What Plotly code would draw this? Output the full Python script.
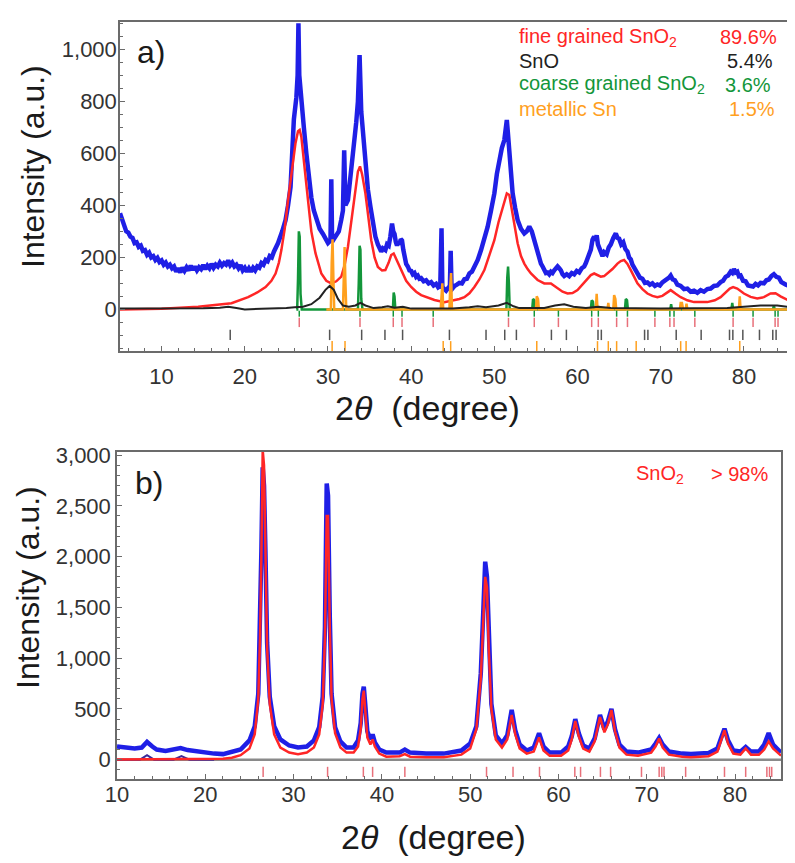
import plotly.graph_objects as go

# ---------------- Panel a data ----------------
a_obs_x = [5.0,5.25,5.5,5.75,6.0,6.25,6.5,6.75,7.0,7.25,7.5,7.75,8.0,8.25,8.5,8.75,9.0,9.25,9.5,9.75,10.0,10.25,10.5,10.75,11.0,11.25,11.5,11.75,12.0,12.25,12.5,12.75,13.0,13.25,13.5,13.75,14.0,14.25,14.5,14.75,15.0,15.25,15.5,15.75,16.0,16.25,16.5,16.75,17.0,17.25,17.5,17.75,18.0,18.25,18.5,18.75,19.0,19.25,19.5,19.75,20.0,20.25,20.5,20.75,21.0,21.25,21.5,21.75,22.0,22.25,22.5,22.75,23.0,23.25,23.5,23.75,24.0,24.5,24.9,25.2,25.5,25.9,26.2,26.35,26.45,26.55,26.8,27.1,27.4,27.7,28.0,28.3,28.6,29.0,29.4,29.7,30.0,30.3,30.4,30.5,30.9,31.3,31.6,31.8,31.95,32.1,32.4,32.8,33.1,33.4,33.6,33.8,34.0,34.3,34.5,34.8,35.1,35.4,35.7,36.0,36.2,36.4,36.6,36.9,37.1,37.3,37.5,37.7,37.85,38.0,38.15,38.3,38.45,38.6,38.75,38.9,39.05,39.2,39.4,39.6,39.8,40.0,40.2,40.4,40.6,40.8,41.0,41.2,41.5,41.8,42.1,42.4,42.7,43.0,43.25,43.5,43.65,43.75,44.0,44.2,44.45,44.65,44.75,44.85,45.0,45.2,45.5,45.8,46.1,46.4,46.7,47.0,47.3,47.6,48.0,48.4,48.8,49.2,49.6,50.0,50.3,50.6,50.9,51.2,51.4,51.5,51.6,51.8,52.0,52.2,52.5,52.8,53.2,53.6,53.9,54.2,54.5,54.8,55.2,55.6,55.8,56.0,56.2,56.4,56.6,56.8,57.0,57.2,57.4,57.6,57.8,58.0,58.2,58.4,58.7,59.0,59.3,59.6,59.9,60.2,60.5,60.8,61.0,61.2,61.4,61.6,61.8,62.0,62.15,62.3,62.45,62.6,62.8,63.0,63.2,63.5,63.75,64.0,64.3,64.6,64.8,65.0,65.25,65.5,65.75,66.0,66.2,66.4,66.6,66.8,67.0,67.2,67.5,67.8,68.1,68.4,68.7,69.0,69.3,69.6,69.9,70.2,70.5,70.7,71.0,71.2,71.45,71.7,72.0,72.4,72.8,73.2,73.6,74.0,74.4,74.8,75.2,75.6,76.0,76.4,76.8,77.2,77.5,77.8,78.1,78.4,78.6,78.8,79.0,79.2,79.4,79.6,79.9,80.2,80.5,80.8,81.1,81.4,81.7,82.0,82.4,82.7,83.0,83.3,83.6,83.9,84.2,84.5,84.8,85.05,85.3]
a_obs_y = [370,345,330,300,295,280,275,255,258,240,245,225,228,210,218,200,205,190,198,182,188,172,180,165,172,158,165,145,158,142,160,148,162,150,168,152,165,150,162,155,170,155,168,158,175,160,172,165,180,168,178,172,188,170,180,165,172,158,170,150,160,145,158,145,160,150,165,160,178,172,190,185,205,200,222,235,255,300,343,400,470,730,815,900,1100,900,790,700,600,510,430,380,345,310,290,270,255,265,500,260,280,300,345,380,612,400,420,535,610,720,800,978,760,640,550,460,395,330,280,250,235,222,235,228,250,245,280,330,300,290,260,245,260,250,270,265,230,200,175,165,150,148,135,140,125,130,118,120,108,112,100,105,92,98,85,90,312,85,80,72,82,78,225,92,82,90,95,102,100,116,118,138,145,165,190,228,270,318,380,446,520,574,620,651,700,728,690,600,520,446,390,343,310,292,300,318,300,266,215,176,165,155,140,142,135,145,140,150,155,165,158,150,135,128,135,128,140,135,148,142,158,165,178,192,210,230,268,280,265,285,250,235,215,205,220,212,238,250,275,292,275,272,250,258,232,222,200,192,172,162,145,140,122,118,102,104,95,100,90,96,92,104,110,118,122,130,115,112,95,90,78,80,68,72,64,74,68,78,80,90,92,105,110,125,130,145,140,155,142,145,128,130,110,108,92,90,88,98,92,102,100,112,115,128,135,125,122,105,102,95,92]

a_fine_x = [5,10,14.4,16,18.4,20.4,21.5,22.5,23.2,23.7,24.1,24.4,24.8,25.2,25.5,25.8,26.1,26.4,26.6,26.8,27.1,27.35,27.6,28.0,28.5,29.2,29.8,30.4,31.0,31.6,32.0,32.4,32.8,33.3,33.6,33.85,34.1,34.5,34.8,35.2,35.6,36.0,36.5,36.9,37.3,37.6,37.9,38.2,38.8,39.4,40,40.6,41.2,42,42.8,44,45.2,45.8,46.4,47.0,47.6,48.2,48.8,49.4,50,50.5,51.0,51.5,51.8,52.2,52.5,52.8,53.2,53.6,54.0,54.4,55.2,56,56.8,57.6,58.2,58.8,59.4,60,60.6,61.2,61.6,62,62.4,62.8,63.2,63.6,64.2,64.8,65.2,65.6,66.0,66.4,66.8,67.2,67.8,68.4,69.0,69.6,70.2,70.7,71.2,71.8,72.4,73.2,74,75.6,76.5,77.2,77.8,78.3,78.7,79.2,80,80.8,81.6,82.4,83.2,83.8,84.4,85.3]
a_fine_y = [0,2,10,15,24,47,65,86,110,138,180,228,310,420,500,574,640,685,690,663,580,500,420,300,216,138,110,100,108,126,170,241,340,470,530,550,520,446,360,266,200,163,150,151,180,209,215,195,151,110,86,68,55,44,36,28,36,40,47,62,86,115,151,205,266,335,394,446,440,369,310,254,205,176,155,138,113,100,100,80,68,61,63,74,95,119,132,138,132,126,128,138,155,176,186,190,175,151,125,100,78,61,52,47,52,64,74,60,47,35,28,28,35,47,65,80,86,80,61,48,42,47,61,62,50,36]

a_sno_x = [5,10,15,17,18,19,20,22,24,25,26,27,28,29,29.7,30.2,30.7,31.2,31.8,32.5,33.3,33.9,34.5,35.5,36.5,37.2,38,39,40,45,47,48,49,50.5,51.5,52.3,53,56,57.3,58.4,59.5,61,62.5,64,70,75,78,80,82,84,85.3]
a_sno_y = [3,3,4,6,10,5,0,2,3,5,8,10,20,45,75,90,75,40,15,10,15,25,15,5,8,12,6,10,3,3,8,12,8,15,25,12,5,5,15,20,10,5,10,5,3,3,5,10,15,15,10]

a_coarse_x = [26.2,26.3,26.4,26.5,26.6,26.7,26.85,29.9,33.6,33.7,33.8,33.9,34.0,34.15,37.8,37.9,38.0,38.1,51.45,51.55,51.65,51.75,51.85,54.55,54.65,54.8,54.9,61.6,61.7,61.85,61.95,65.7,65.8,65.95,66.05,71.15,71.25,71.35,78.5,78.6,78.7,83.5,83.6,83.7,85.3]
a_coarse_y = [0,0,120,300,280,60,0,0,0,100,245,230,40,0,0,65,50,0,0,120,165,100,0,0,40,35,0,0,35,30,0,0,40,35,0,0,20,0,0,25,0,0,15,0,0]

a_sn_x = [29.8,30.35,30.45,30.55,30.65,30.75,31.8,31.9,32.0,32.1,32.2,43.55,43.65,43.75,43.85,44.6,44.7,44.8,44.9,55.0,55.1,55.25,55.35,62.2,62.3,62.4,63.6,63.7,63.8,64.3,64.4,64.55,64.65,72.3,72.4,72.55,72.7,73.0,73.1,73.2,79.4,79.5,79.6,85.3]
a_sn_y = [0,0,180,270,120,0,0,150,240,100,0,0,60,100,0,0,90,140,0,0,50,40,0,0,60,0,0,25,0,0,55,40,0,0,25,25,0,0,22,0,0,50,0,0]

# reflection positions
a_refl_coarse = [26.55,33.85,37.85,38.9,42.65,51.7,54.8,57.7,61.7,62.5,64.7,66.0,69.3,71.1,71.6,74.1,78.7,81.1,83.75,84.1]
a_refl_fine = a_refl_coarse
a_refl_sno = [18.25,30.2,34.05,36.85,38.97,44.6,49.0,51.25,52.65,56.86,58.66,62.46,62.86,68.06,68.46,71.86,74.86,78.27,78.67,79.87,81.87,83.47,83.87]
a_refl_sn = [30.5,32.05,43.85,44.75,55.1,62.4,63.7,64.7,67.05,72.4,73.05,79.5]

a_legend_names = ["fine grained SnO<sub>2</sub>", "SnO", "coarse grained SnO<sub>2</sub>", "metallic Sn"]
a_legend_pct = ["89.6%", "5.4%", "3.6%", "1.5%"]

# ---------------- Panel b data ----------------
b_obs_x = [10,11,12,12.8,13.4,14,14.5,15.5,16.3,17.2,18,19,20,21,22,23,24,25,25.6,26.0,26.2,26.35,26.5,26.65,26.8,27.0,27.3,27.8,28.5,29.5,30.5,31.5,32.3,32.9,33.3,33.55,33.75,33.9,34.1,34.3,34.7,35.3,36,36.8,37.3,37.6,37.8,37.95,38.1,38.35,38.7,38.95,39.2,39.7,40.5,42,42.6,43.2,45,47,49,50,50.7,51.2,51.5,51.7,51.9,52.1,52.4,52.9,53.6,54.2,54.7,55.1,55.6,56.4,57.2,57.8,58.3,59,60.3,61.1,61.5,61.9,62.3,62.8,63.5,64.1,64.7,65.2,65.6,66.0,66.4,66.9,67.7,69,70.5,71.0,71.4,71.8,72.5,74,75,77,78,78.4,78.8,79.2,79.8,80.6,81.2,81.8,82.7,83.3,83.8,84.3,85.2]
b_obs_y = [130,120,110,120,175,130,100,85,95,115,95,80,70,60,55,75,100,190,330,650,1250,2050,2880,2700,2100,1150,620,330,200,140,120,130,190,320,620,1300,2720,2600,1400,650,320,180,120,120,190,360,650,720,560,280,200,250,170,100,70,70,100,70,60,60,90,160,330,850,1500,1950,1800,1150,550,240,160,240,490,290,150,90,120,260,130,70,70,130,230,400,260,140,110,210,440,300,380,500,300,150,80,70,100,160,215,150,80,60,55,65,110,210,305,190,90,80,125,80,80,150,262,150,70]

b_fit_x = [10,20,22,23,24,25,25.6,26.0,26.2,26.35,26.5,26.65,26.8,27.0,27.3,27.8,28.5,29.5,30.5,31.5,32.3,32.9,33.3,33.55,33.75,33.9,34.1,34.3,34.7,35.3,36,36.8,37.3,37.6,37.8,37.95,38.1,38.35,38.7,38.95,39.2,39.7,40.5,42,42.6,43.2,45,47,49,50,50.7,51.2,51.5,51.7,51.9,52.1,52.4,52.9,53.6,54.2,54.7,55.1,55.6,56.4,57.2,57.8,58.3,59,60.3,61.1,61.5,61.9,62.3,62.8,63.5,64.1,64.7,65.2,65.6,66.0,66.4,66.9,67.7,69,70.5,71.0,71.4,71.8,72.5,74,75,77,78,78.4,78.8,79.2,79.8,80.6,81.2,81.8,82.7,83.3,83.8,84.3,85.2]
b_fit_y = [3,5,10,20,45,110,250,600,1200,2000,3050,2900,2000,1100,550,250,120,70,55,70,120,250,550,1200,2400,2400,1300,600,260,120,70,70,130,300,600,680,500,220,150,200,130,60,30,35,55,30,25,25,50,110,300,800,1400,1800,1700,1100,500,200,120,200,440,250,110,60,80,220,90,40,40,90,200,380,230,110,80,180,420,270,350,490,280,120,50,40,70,130,210,120,50,30,25,35,80,180,290,160,60,50,110,50,50,100,180,110,40]

b_minor_x = [10,12.6,13.4,14.2,16.4,17.3,18.2,21]
b_minor_y = [0,0,45,0,0,35,0,0]

b_refl = [26.55,33.85,37.9,38.95,42.6,51.85,54.85,57.85,61.85,62.5,64.75,65.9,69.4,71.4,71.7,71.95,74.4,78.8,81.2,83.6,83.9,84.15]

# ---------------- styling ----------------
BLUE = "#1f1fe6"
RED = "#ff2626"
GREEN = "#13963a"
ORANGE = "#ffa01e"
BLACK = "#222222"
FONT = "Liberation Sans, Arial, sans-serif"


def ticks(pos, y0, y1):
    xs, ys = [], []
    for p in pos:
        xs += [p, p, None]
        ys += [y0, y1, None]
    return xs, ys


fig = go.Figure()

# panel a traces
fig.add_trace(go.Scatter(x=a_obs_x, y=a_obs_y, mode="lines", line=dict(color=BLUE, width=4.5), xaxis="x", yaxis="y"))
fig.add_trace(go.Scatter(x=a_fine_x, y=a_fine_y, mode="lines", line=dict(color=RED, width=2.5), xaxis="x", yaxis="y"))
fig.add_trace(go.Scatter(x=a_coarse_x, y=a_coarse_y, mode="lines", line=dict(color=GREEN, width=2.5), xaxis="x", yaxis="y"))
fig.add_trace(go.Scatter(x=a_sn_x, y=a_sn_y, mode="lines", line=dict(color=ORANGE, width=2.5), xaxis="x", yaxis="y"))
fig.add_trace(go.Scatter(x=a_sno_x, y=a_sno_y, mode="lines", line=dict(color=BLACK, width=2), xaxis="x", yaxis="y"))

for pos, y0, y1, col in [(a_refl_coarse, -5, -28, GREEN), (a_refl_fine, -32, -68, "#e8707a"),
                         (a_refl_sno, -78, -118, "#555555"), (a_refl_sn, -122, -160, ORANGE)]:
    tx, ty = ticks(pos, y0, y1)
    fig.add_trace(go.Scatter(x=tx, y=ty, mode="lines", line=dict(color=col, width=1.5), xaxis="x", yaxis="y"))

# panel b traces
fig.add_trace(go.Scatter(x=[10, 85.2], y=[0, 0], mode="lines", line=dict(color="#8a8a8a", width=2.5), xaxis="x2", yaxis="y2"))
fig.add_trace(go.Scatter(x=b_minor_x, y=b_minor_y, mode="lines", line=dict(color="#3a2a9a", width=2), xaxis="x2", yaxis="y2"))
fig.add_trace(go.Scatter(x=b_obs_x, y=b_obs_y, mode="lines", line=dict(color=BLUE, width=4.5), xaxis="x2", yaxis="y2"))
fig.add_trace(go.Scatter(x=b_fit_x, y=b_fit_y, mode="lines", line=dict(color=RED, width=2.5), xaxis="x2", yaxis="y2"))
tx, ty = ticks(b_refl, -70, -170)
fig.add_trace(go.Scatter(x=tx, y=ty, mode="lines", line=dict(color="#e8707a", width=1.5), xaxis="x2", yaxis="y2"))

W, H = 795, 863
OFF = 8  # page body margin of the browser


def fx(p):
    return (p - OFF) / W


def fy(p):
    return 1 - (p - OFF) / H


axis_common = dict(showgrid=False, zeroline=False, showline=True, linecolor="#6b6b6b", linewidth=1.5,
                   mirror=True, ticks="inside", ticklen=5, tickcolor="#6b6b6b", automargin=False,
                   tickfont=dict(family=FONT, size=22, color="#333333"))

fig.update_layout(
    width=W, height=H, margin=dict(l=0, r=0, t=0, b=0, pad=0), autosize=False,
    paper_bgcolor="white", plot_bgcolor="white", showlegend=False,
    xaxis=dict(domain=[fx(120), fx(788)], range=[5, 85.3], dtick=10, tick0=0, anchor="y",
               minor=dict(ticks="inside", ticklen=3, dtick=2, tickcolor="#6b6b6b"),
               ticklabelstandoff=5, **axis_common),
    yaxis=dict(domain=[fy(351), fy(22)], range=[-160, 1105], tickvals=[0, 200, 400, 600, 800, 1000],
               tickformat=",d", anchor="x", minor=dict(ticks="inside", ticklen=3, dtick=50, tickcolor="#6b6b6b"),
               ticklabelstandoff=-3, **axis_common),
    xaxis2=dict(domain=[fx(117), fx(781)], range=[10, 85.2], dtick=10, tick0=0, anchor="y2",
                minor=dict(ticks="inside", ticklen=3, dtick=2, tickcolor="#6b6b6b"),
                ticklabelstandoff=-5, **axis_common),
    yaxis2=dict(domain=[fy(779), fy(452)], range=[-190, 3030], tickvals=[0, 500, 1000, 1500, 2000, 2500, 3000],
                tickformat=",d", anchor="x2", minor=dict(ticks="inside", ticklen=3, dtick=100, tickcolor="#6b6b6b"),
                ticklabelstandoff=0, **axis_common),
)

ann = []
def px(x, y, text, size, color="#1a1a1a", xanchor="center", yanchor="middle", angle=0):
    ann.append(dict(x=fx(x), y=fy(y), xref="paper", yref="paper", text=text, showarrow=False,
                    xanchor=xanchor, yanchor=yanchor, textangle=angle,
                    font=dict(family=FONT, size=size, color=color)))

# axis titles
px(33, 167, "Intensity (a.u.)", 32, angle=-90)
px(28, 588, "Intensity (a.u.)", 32, angle=-90)
px(427, 408, "2<i>θ</i>  (degree)", 34)
px(433, 837, "2<i>θ</i>  (degree)", 34)
# panel labels
px(135, 52, "a)", 32, xanchor="left")
px(133, 483, "b)", 32, xanchor="left")
# legend panel a
leg_cols = [RED, BLACK, GREEN, ORANGE]
pct_x = [718, 725, 723, 727]
for i, (nm, pc, col) in enumerate(zip(a_legend_names, a_legend_pct, leg_cols)):
    yy = 37 + 24 * i
    px(517, yy, nm, 20, color=col, xanchor="left")
    px(pct_x[i], yy, pc, 20, color=col, xanchor="left")
# legend panel b
px(634, 474, "SnO<sub>2</sub>", 20, color=RED, xanchor="left")
px(709, 474, "> 98%", 20, color=RED, xanchor="left")

fig.update_layout(annotations=ann)
fig.write_html("out.html")
